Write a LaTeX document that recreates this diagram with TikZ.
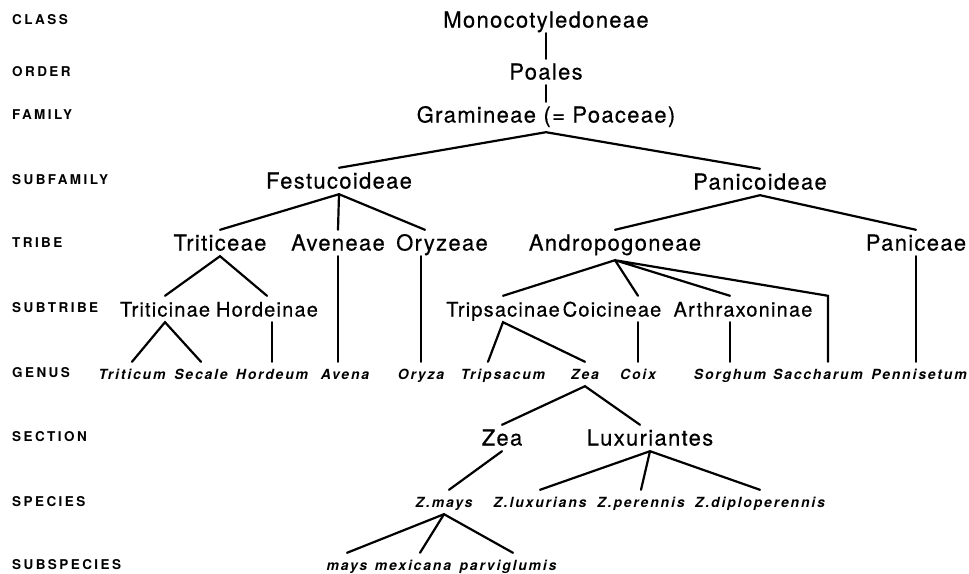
\documentclass[tikz,border=0pt]{standalone}
\usepackage{fontspec}
\setmainfont{TeX Gyre Heros}
\newfontfamily\taxonfont[LetterSpace=6, FakeBold=0.4]{TeX Gyre Heros}
\newfontfamily\latinfont[LetterSpace=13]{TeX Gyre Heros}
\newfontfamily\rankfont[LetterSpace=18]{TeX Gyre Heros}
\tikzset{
    taxon/.style={inner xsep=0pt, inner ysep=2.5pt, text height=18pt, text depth=3pt, font=\taxonfont\fontsize{22}{26}\selectfont},
    subtaxon/.style={taxon, font=\taxonfont\fontsize{20}{24}\selectfont},
    latin/.style={inner xsep=0pt, inner ysep=6pt, text height=11pt, text depth=1pt, font=\latinfont\bfseries\itshape\fontsize{14}{17}\selectfont},
    rank/.style={anchor=west, inner sep=0pt, font=\rankfont\bfseries\fontsize{13.5}{16}\selectfont},
    branch/.style={line width=2.2pt, line cap=round},
}

\begin{document}
\begin{tikzpicture}[x=1pt, y=-1pt]
    \useasboundingbox (0,0) rectangle (969,573);

    % Ranks
    \node[rank] (rclass) at (12,20) {CLASS};
    \node[rank] (rorder) at (12,72) {ORDER};
    \node[rank] (rfamily) at (12,115) {FAMILY};
    \node[rank] (rsubfamily) at (12,180) {SUBFAMILY};
    \node[rank] (rtribe) at (12,243) {TRIBE};
    \node[rank] (rsubtribe) at (12,308) {SUBTRIBE};
    \node[rank] (rgenus) at (12,373) {GENUS};
    \node[rank] (rsection) at (12,437) {SECTION};
    \node[rank] (rspecies) at (12,502) {SPECIES};
    \node[rank] (rsubspecies) at (12,565) {SUBSPECIES};

    % Nodes
    \node[taxon] (mono) at (546,20) {Monocotyledoneae};
    \node[taxon] (poales) at (546,72) {Poales};
    \node[taxon] (gram) at (546,115) {Gramineae (= Poaceae)};

    \node[taxon] (festu) at (339,181) {Festucoideae};
    \node[taxon] (panic) at (760,182) {Panicoideae};

    \node[taxon] (tritic) at (220,243) {Triticeae};
    \node[taxon] (aven) at (338,243) {Aveneae};
    \node[taxon] (oryz) at (442,243) {Oryzeae};
    \node[taxon] (andro) at (615,243) {Andropogoneae};
    \node[taxon] (panicea) at (916,243) {Paniceae};

    \node[subtaxon] (triticin) at (165,309) {Triticinae};
    \node[subtaxon] (hordein) at (267,309) {Hordeinae};
    \node[subtaxon] (tripsacin) at (503,309) {Tripsacinae};
    \node[subtaxon] (coicin) at (612,309) {Coicineae};
    \node[subtaxon] (arthrax) at (743,309) {Arthraxoninae};

    \node[latin] (triticum) at (132,374) {Triticum};
    \node[latin] (secale) at (201,374) {Secale};
    \node[latin] (hordeum) at (272,374) {Hordeum};
    \node[latin] (avena) at (345,374) {Avena};
    \node[latin] (oryza) at (421,374) {Oryza};
    \node[latin] (tripsacum) at (503,374) {Tripsacum};
    \node[latin] (zeagen) at (585,374) {Zea};
    \node[latin] (coix) at (638,374) {Coix};
    \node[latin] (sorghum) at (730,374) {Sorghum};
    \node[latin] (saccharum) at (818,374) {Saccharum};
    \node[latin] (pennisetum) at (919,374) {Pennisetum};

    \node[taxon] (zeasec) at (502,438) {Zea};
    \node[taxon] (luxur) at (650,438) {Luxuriantes};

    \node[latin] (zmays) at (444,502) {Z.mays};
    \node[latin] (zlux) at (540,502) {Z.luxurians};
    \node[latin] (zper) at (641,502) {Z.perennis};
    \node[latin] (zdip) at (760,502) {Z.diploperennis};

    \node[latin] (mays) at (347,565) {mays};
    \node[latin] (mexicana) at (413,565) {mexicana};
    \node[latin] (parvi) at (508,565) {parviglumis};

    % Edges
    \draw[branch] (mono) -- (poales);
    \draw[branch] (poales) -- (gram);
    \draw[branch] (festu.north) -- ([yshift=-4pt]gram.south) -- (panic.north);

    \draw[branch] (tritic.north) -- (festu.south) -- ([xshift=-17pt]oryz.north);
    \draw[branch] (festu.south) -- (aven.north);
    \draw[branch] (andro.north) -- (panic.south) -- (panicea.north);

    \draw[branch] (triticin.north) -- (tritic.south) -- (hordein.north);
    \draw[branch] (aven.south) -- (aven.south |- avena.north);
    \draw[branch] (oryza.north |- oryz.south) -- (oryza.north);
    \draw[branch] (tripsacin.north) -- ([yshift=-4pt]andro.south) -- (coix.north |- coicin.north);
    \draw[branch] (sorghum.north |- arthrax.north) -- ([yshift=-4pt]andro.south) -- ([xshift=10pt]saccharum.north |- arthrax.north) -- ([xshift=10pt]saccharum.north);
    \draw[branch] (panicea.south) -- (panicea.south |- pennisetum.north);

    \draw[branch] (triticum.north) -- (triticin.south) -- (secale.north);
    \draw[branch] (hordeum.north |- hordein.south) -- (hordeum.north);
    \draw[branch] ([xshift=-15pt]tripsacum.north) -- (tripsacin.south) -- (zeagen.north);
    \draw[branch] (coix.north |- coicin.south) -- (coix.north);
    \draw[branch] (sorghum.north |- arthrax.south) -- (sorghum.north);

    \draw[branch] (zeasec.north) -- (zeagen.south) -- ([xshift=-10pt]luxur.north);
    \draw[branch] (zeasec.south) -- ([xshift=5pt]zmays.north);
    \draw[branch] (zlux.north) -- (luxur.south) -- (zdip.north);
    \draw[branch] (luxur.south) -- (zper.north);

    \draw[branch] (mays.north) -- (zmays.south) -- ([xshift=5pt]parvi.north);
    \draw[branch] (zmays.south) -- ([xshift=7pt]mexicana.north);
\end{tikzpicture}
\end{document}
